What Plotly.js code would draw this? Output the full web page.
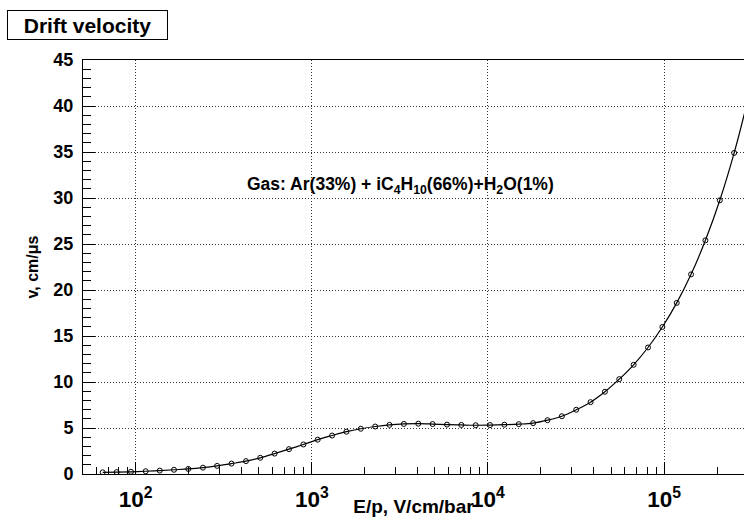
<!DOCTYPE html>
<html>
<head>
<meta charset="utf-8">
<script src="https://cdn.plot.ly/plotly-3.0.1.min.js"></script>
<style>html,body{margin:0;padding:0;background:#fff;}#chart{width:744px;height:517px;}</style>
</head>
<body>
<div id="chart"></div>
<script>
// E/p values (V/cm/bar) of the computed points
const fieldE = [65, 78, 94, 114, 137, 165, 199, 241, 290, 350,
  423, 510, 615, 742, 896, 1080, 1304, 1573, 1898, 2290,
  2762, 3333, 4022, 4852, 5854, 7063, 8521, 10280, 12400, 14960,
  18050, 21780, 26280, 31700, 38250, 46150, 55680, 67170, 81050, 97790,
  117980, 142330, 171720, 207240, 250000];
// drift velocity (cm/us)
const velocity = [0.18, 0.20, 0.24, 0.30, 0.37, 0.46, 0.55, 0.69, 0.88, 1.13,
  1.40, 1.76, 2.22, 2.70, 3.21, 3.73, 4.18, 4.60, 4.92, 5.16,
  5.34, 5.44, 5.47, 5.43, 5.37, 5.33, 5.30, 5.32, 5.36, 5.42,
  5.53, 5.85, 6.28, 6.98, 7.81, 8.94, 10.31, 11.87, 13.75, 15.98,
  18.60, 21.70, 25.40, 29.75, 34.90];
// the drawn curve continues past the last point to the frame edge
const curveE = fieldE.concat([301000]);
const curveV = velocity.concat([40.9]);

const titleText = 'Drift velocity';
const gasText = 'Gas: Ar(33%) + iC<sub>4</sub>H<sub>10</sub>(66%)+H<sub>2</sub>O(1%)';
const xTitle = 'E/p, V/cm/bar';
const yTitle = 'v, cm/\u03bcs';

const FONT = 'Liberation Sans, Arial, Helvetica, sans-serif';

const traces = [
  {x: curveE, y: curveV, type: 'scatter', mode: 'lines',
   line: {color: '#000', width: 1.2, shape: 'spline', smoothing: 1},
   hoverinfo: 'skip', showlegend: false},
  {x: fieldE, y: velocity, type: 'scatter', mode: 'markers',
   marker: {symbol: 'circle-open', size: 5, color: '#000', line: {width: 1, color: '#000'}},
   showlegend: false}
];

const layout = {
  width: 744, height: 517,
  margin: {l: 83, r: 0, t: 60, b: 43, pad: 0},
  paper_bgcolor: '#fff', plot_bgcolor: '#fff',
  font: {family: FONT, color: '#000', size: 16, weight: 700},
  showlegend: false,
  xaxis: {
    type: 'log', range: [1.701, 5.4538],
    showline: true, linecolor: '#000', linewidth: 1, mirror: true,
    ticks: 'inside', ticklen: 12, tickcolor: '#000', tickwidth: 1,
    dtick: 1, exponentformat: 'power',
    tickfont: {family: FONT, size: 18, weight: 700, color: '#000'},
    ticklabelstandoff: 6,
    showgrid: true, gridcolor: '#333', gridwidth: 1, griddash: '1px,2px',
    minor: {ticks: 'inside', ticklen: 7, tickcolor: '#000', dtick: 'D1', showgrid: false},
    zeroline: false,
    title: {text: xTitle, font: {family: FONT, size: 19, weight: 700, color: '#000'}, standoff: 0}
  },
  yaxis: {
    range: [0, 45],
    showline: true, linecolor: '#000', linewidth: 1, mirror: false,
    ticks: 'inside', ticklen: 12, tickcolor: '#000', tickwidth: 1,
    dtick: 5, tick0: 0,
    tickfont: {family: FONT, size: 18, weight: 700, color: '#000'},
    ticklabelstandoff: 5,
    showgrid: true, gridcolor: '#333', gridwidth: 1, griddash: '1px,2px',
    minor: {ticks: 'inside', ticklen: 8, tickcolor: '#000', dtick: 1, showgrid: false},
    zeroline: false,
    title: {text: yTitle, font: {family: FONT, size: 16, weight: 700, color: '#000'}, standoff: 10}
  },
  annotations: [
    {text: titleText, xref: 'paper', yref: 'paper', x: (87 - 83) / 661, y: (474 - 24.5) / 414,
     xanchor: 'center', yanchor: 'middle', showarrow: false,
     font: {family: FONT, size: 21, weight: 700, color: '#000'},
     bordercolor: '#000', borderwidth: 1, borderpad: 2, bgcolor: '#fff', width: 155, height: 24},
    {text: gasText, xref: 'paper', yref: 'paper', x: (400 - 83) / 661, y: (474 - 185) / 414,
     xanchor: 'center', yanchor: 'middle', showarrow: false,
     font: {family: FONT, size: 17.5, weight: 700, color: '#000'}}
  ]
};

Plotly.newPlot('chart', traces, layout, {displayModeBar: false, staticPlot: true});
</script>
</body>
</html>
